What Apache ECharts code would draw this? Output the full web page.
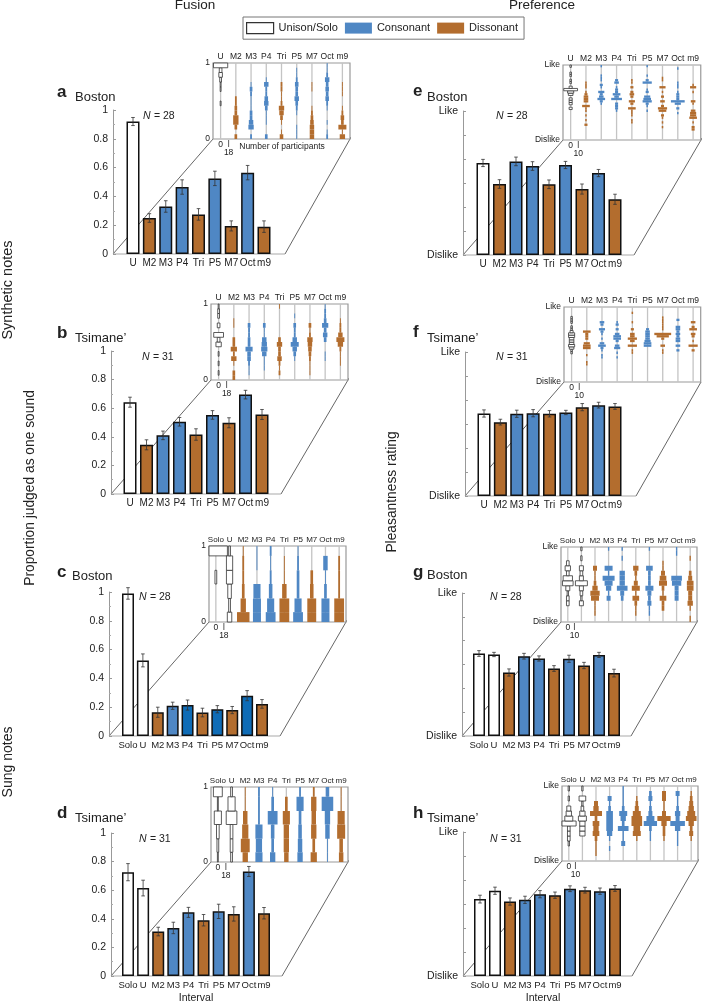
<!DOCTYPE html>
<html>
<head>
<meta charset="utf-8">
<style>
  html, body { margin: 0; padding: 0; background: #fff; }
  #chart { width: 702px; height: 1003px; }
</style>
<script src="https://cdn.jsdelivr.net/npm/echarts@6/dist/echarts.min.js"></script>
</head>
<body>
<div id="chart"></div>
<script>
const synthCats = ['U', 'M2', 'M3', 'P4', 'Tri', 'P5', 'M7', 'Oct', 'm9'];
const sungCats = ['Solo', 'U', 'M2', 'M3', 'P4', 'Tri', 'P5', 'M7', 'Oct', 'm9'];
const synthKinds = ['Unison/Solo', 'Dissonant', 'Consonant', 'Consonant', 'Dissonant', 'Consonant', 'Dissonant', 'Consonant', 'Dissonant'];
const sungKinds = ['Unison/Solo'].concat(synthKinds);

// mean and error of each bar
const aMeans = [0.92, 0.25, 0.33, 0.465, 0.275, 0.525, 0.195, 0.565, 0.19];
const aErrs = [0.028, 0.03, 0.04, 0.05, 0.04, 0.05, 0.035, 0.05, 0.04];
const bMeans = [0.642, 0.344, 0.41, 0.505, 0.416, 0.553, 0.498, 0.695, 0.556];
const bErrs = [0.035, 0.035, 0.03, 0.03, 0.04, 0.03, 0.035, 0.03, 0.035];
const cMeans = [0.99, 0.525, 0.165, 0.21, 0.215, 0.163, 0.186, 0.18, 0.28, 0.223];
const cErrs = [0.04, 0.045, 0.035, 0.025, 0.035, 0.03, 0.025, 0.025, 0.035, 0.03];
const dMeans = [0.726, 0.615, 0.311, 0.336, 0.445, 0.39, 0.452, 0.434, 0.731, 0.439];
const dErrs = [0.06, 0.055, 0.03, 0.04, 0.035, 0.04, 0.05, 0.05, 0.035, 0.04];
const eMeans = [0.639, 0.493, 0.65, 0.618, 0.491, 0.625, 0.458, 0.569, 0.387];
const eErrs = [0.025, 0.03, 0.03, 0.03, 0.03, 0.025, 0.035, 0.025, 0.035];
const fMeans = [0.573, 0.513, 0.571, 0.575, 0.571, 0.58, 0.617, 0.631, 0.622];
const fErrs = [0.025, 0.02, 0.025, 0.025, 0.022, 0.015, 0.025, 0.02, 0.02];
const gMeans = [0.577, 0.57, 0.444, 0.558, 0.542, 0.472, 0.54, 0.493, 0.567, 0.44];
const gErrs = [0.02, 0.015, 0.025, 0.02, 0.018, 0.02, 0.025, 0.022, 0.018, 0.027];
const hMeans = [0.534, 0.592, 0.517, 0.529, 0.568, 0.561, 0.606, 0.596, 0.589, 0.608];
const hErrs = [0.027, 0.025, 0.025, 0.025, 0.025, 0.022, 0.02, 0.02, 0.022, 0.02];

// participant counts of the insets, one entry per interval, bin -> count
const aHist = [
  { 15: 16, 14: 3, 13: 4, 12: 2, 11: 1, 10: 1, 7: 1 },
  { 0: 3, 2: 3, 3: 6, 4: 6, 5: 3, 6: 3, 7: 2, 8: 2 },
  { 0: 2, 2: 6, 3: 5, 4: 3, 5: 3, 6: 1, 7: 1, 8: 1, 9: 2, 10: 3, 11: 1 },
  { 0: 3, 3: 1, 4: 1, 5: 1, 6: 3, 7: 5, 8: 4, 9: 2, 10: 2, 11: 5, 12: 1 },
  { 0: 4, 1: 1, 3: 1, 4: 3, 5: 5, 6: 6, 7: 2, 8: 1, 9: 1, 10: 2, 11: 2 },
  { 0: 1, 1: 1, 2: 1, 5: 1, 6: 2, 7: 3, 8: 5, 9: 3, 10: 3, 11: 4, 12: 2, 13: 1, 14: 1 },
  { 0: 5, 1: 5, 2: 5, 3: 4, 4: 3, 5: 2, 6: 1, 10: 1, 11: 1 },
  { 0: 2, 1: 1, 3: 1, 6: 1, 7: 2, 8: 4, 9: 3, 10: 4, 11: 3, 12: 5, 13: 2, 14: 1, 15: 1 },
  { 0: 6, 1: 1, 2: 9, 3: 3, 4: 4, 5: 2, 6: 1, 9: 1, 10: 1, 11: 1 },
];
const bHist = [
  { 15: 1, 14: 2, 13: 2, 11: 3, 9: 11, 8: 3, 7: 6, 5: 1, 3: 1, 1: 1 },
  { 0: 3, 1: 3, 3: 1, 4: 6, 5: 2, 6: 7, 7: 3, 8: 3, 11: 1, 12: 1 },
  { 1: 1, 2: 1, 3: 2, 4: 4, 5: 4, 6: 8, 7: 3, 8: 3, 9: 2, 10: 2, 11: 3 },
  { 2: 1, 3: 1, 4: 1, 5: 5, 6: 7, 7: 6, 8: 5, 9: 1, 10: 1, 11: 3 },
  { 1: 2, 2: 1, 3: 2, 4: 5, 5: 3, 6: 3, 7: 6, 8: 3, 15: 1 },
  { 4: 1, 5: 3, 6: 5, 7: 9, 8: 5, 9: 2, 10: 2, 11: 3, 13: 1 },
  { 1: 1, 2: 1, 3: 1, 4: 2, 5: 3, 6: 4, 7: 5, 8: 6, 9: 2, 10: 1, 11: 3 },
  { 4: 1, 5: 1, 8: 3, 9: 5, 10: 3, 11: 7, 12: 3, 13: 2, 14: 2, 15: 1 },
  { 3: 1, 4: 1, 5: 1, 6: 2, 7: 6, 8: 9, 9: 5, 10: 2, 11: 2, 12: 1 },
];
const cHist = [
  [0, 0, 0, 2, 0, 26],
  [5, 2, 4, 7, 7, 2],
  [14, 6, 3, 2, 2, 1],
  [9, 9, 8, 0, 1, 1],
  [11, 8, 4, 2, 1, 2],
  [11, 11, 5, 1, 1, 0],
  [11, 8, 3, 3, 2, 1],
  [10, 10, 4, 3, 0, 0],
  [9, 9, 3, 1, 5, 0],
  [11, 11, 2, 2, 2, 0],
];
const dHist = [
  [1, 2, 3, 8, 1, 10],
  [2, 3, 3, 12, 8, 2],
  [6, 10, 7, 5, 1, 1],
  [8, 7, 8, 2, 2, 2],
  [6, 3, 4, 11, 3, 1],
  [5, 6, 6, 8, 3, 0],
  [6, 5, 4, 3, 8, 2],
  [7, 3, 6, 5, 6, 2],
  [1, 1, 5, 6, 13, 4],
  [5, 4, 9, 8, 1, 1],
];
const eHist = [
  { 31: 1, 28: 1, 27: 1, 25: 1, 24: 1, 22: 2, 21: 9, 20: 4, 19: 3, 17: 2, 16: 2, 15: 2, 13: 2 },
  { 24: 1, 23: 1, 22: 1, 20: 1, 19: 2, 18: 3, 17: 3, 16: 3, 14: 5, 13: 1, 12: 1, 10: 1, 8: 1, 6: 2 },
  { 31: 1, 27: 1, 26: 1, 25: 1, 23: 2, 22: 1, 20: 4, 19: 2, 18: 3, 17: 5, 16: 2, 15: 1 },
  { 25: 2, 24: 3, 22: 1, 21: 2, 20: 2, 19: 5, 18: 3, 17: 7, 15: 2, 14: 2, 13: 2, 12: 1 },
  { 25: 1, 24: 1, 22: 2, 20: 2, 19: 3, 18: 2, 16: 4, 15: 2, 13: 5, 12: 1, 11: 1, 10: 1, 8: 1, 7: 1 },
  { 31: 1, 27: 1, 25: 2, 24: 6, 21: 1, 20: 2, 18: 4, 17: 5, 16: 6, 15: 2, 14: 1, 12: 1 },
  { 26: 1, 25: 1, 22: 4, 20: 1, 18: 2, 16: 3, 14: 2, 13: 6, 12: 5, 10: 2, 9: 1, 7: 1, 5: 1 },
  { 30: 1, 24: 1, 23: 1, 22: 1, 20: 1, 19: 2, 18: 2, 17: 2, 16: 9, 15: 4, 13: 2, 11: 1 },
  { 23: 1, 22: 4, 20: 1, 16: 3, 15: 1, 12: 3, 11: 4, 10: 4, 9: 5, 7: 1, 5: 2, 4: 2 },
];
const fHist = [
  { 27: 1, 26: 1, 25: 1, 23: 1, 22: 1, 21: 2, 20: 4, 19: 4, 18: 3, 17: 3, 16: 3, 15: 4, 14: 3, 13: 1, 12: 1 },
  { 21: 5, 20: 2, 19: 2, 18: 2, 16: 4, 15: 5, 14: 5, 11: 1, 8: 1, 7: 1 },
  { 25: 3, 24: 2, 22: 4, 21: 2, 20: 1, 18: 1, 16: 3, 15: 5, 14: 2, 13: 1, 11: 1, 10: 1 },
  { 25: 1, 24: 2, 22: 2, 20: 3, 19: 5, 18: 5, 17: 2, 15: 3, 14: 4, 12: 1, 10: 1 },
  { 29: 1, 25: 1, 22: 2, 20: 3, 19: 3, 18: 6, 17: 3, 15: 6, 13: 1, 12: 1 },
  { 22: 2, 21: 3, 20: 3, 19: 3, 18: 3, 17: 4, 16: 5, 15: 5 },
  { 27: 1, 26: 1, 25: 1, 24: 1, 23: 1, 22: 1, 20: 11, 19: 8, 18: 2, 15: 3, 13: 1, 12: 1 },
  { 26: 2, 23: 3, 22: 3, 21: 2, 20: 3, 19: 2, 18: 3, 17: 3, 15: 3, 13: 2 },
  { 25: 3, 23: 2, 22: 5, 20: 3, 19: 2, 17: 1, 15: 6, 13: 2 },
];
const gHist = [
  { 11: 2, 10: 4, 9: 2, 8: 7, 7: 8, 6: 3, 5: 1, 4: 2, 3: 2 },
  { 14: 1, 12: 1, 10: 3, 9: 2, 8: 3, 7: 9, 6: 3, 5: 2, 4: 1, 3: 3 },
  { 10: 3, 9: 1, 8: 1, 7: 2, 6: 4, 5: 7, 4: 6, 3: 1, 2: 1, 1: 1 },
  { 14: 1, 10: 6, 9: 1, 8: 9, 7: 6, 6: 4, 5: 1, 4: 3 },
  { 14: 1, 12: 1, 9: 4, 8: 4, 7: 4, 6: 8, 5: 3, 4: 2 },
  { 10: 4, 9: 2, 8: 1, 7: 3, 6: 6, 5: 1, 4: 5, 3: 2, 2: 1, 1: 1 },
  { 14: 1, 10: 5, 9: 2, 8: 2, 7: 2, 6: 6, 5: 3, 4: 2, 3: 3, 2: 1, 1: 1 },
  { 11: 1, 10: 1, 9: 3, 8: 5, 7: 6, 6: 2, 5: 1, 4: 5, 3: 2, 2: 2 },
  { 14: 1, 13: 1, 8: 8, 7: 7, 6: 3, 5: 3, 4: 3 },
  { 12: 1, 9: 2, 8: 3, 7: 5, 6: 5, 5: 3, 4: 3, 3: 4, 2: 1, 0: 1 },
];
const hHist = [
  { 14: 1, 12: 1, 10: 3, 9: 4, 8: 6, 7: 11, 6: 2, 5: 2, 4: 2, 3: 1 },
  { 14: 1, 12: 5, 11: 1, 10: 2, 9: 4, 8: 6, 7: 4, 6: 4, 5: 4 },
  { 11: 3, 10: 4, 9: 9, 8: 2, 7: 5, 6: 4, 5: 5, 4: 2, 3: 1, 2: 1, 1: 1 },
  { 12: 3, 11: 1, 10: 2, 9: 5, 8: 5, 7: 5, 6: 5, 5: 4, 4: 1, 2: 1 },
  { 14: 1, 13: 1, 12: 1, 11: 1, 10: 2, 9: 6, 8: 4, 7: 2, 6: 8, 5: 1, 4: 1, 3: 3 },
  { 12: 1, 11: 2, 10: 3, 9: 6, 8: 8, 7: 8, 6: 5, 5: 6, 4: 1 },
  { 13: 2, 12: 3, 11: 1, 10: 2, 9: 3, 8: 6, 7: 10, 6: 2, 5: 1, 4: 1 },
  { 13: 3, 12: 3, 11: 1, 10: 1, 9: 3, 8: 10, 7: 4, 6: 2, 5: 2, 4: 1 },
  { 13: 3, 12: 1, 11: 1, 10: 2, 9: 4, 8: 3, 7: 11, 6: 4, 5: 1, 4: 1, 3: 1 },
  { 13: 1, 12: 2, 11: 3, 10: 4, 9: 6, 8: 8, 7: 4, 6: 2, 5: 3, 4: 1 },
];

const sungFusionEdges = [0, 0.13, 0.31, 0.5, 0.68, 0.87, 1];

const colors = {
  'Unison/Solo': '#fff',
  Consonant: '#4f87c4',
  Dissonant: '#b36d2e',
};
const strongBlue = '#0f6cb6';
const fontFamily = '"Liberation Sans", Arial, sans-serif';

function evenEdges(n, shift) {
  const edges = [];
  for (let i = 0; i <= n; i++) edges.push(Math.min(1, (i + (shift || 0)) / n));
  edges[0] = 0;
  return edges;
}

const panels = [
  { letter: 'a', site: 'Boston', n: 28, cats: synthCats, kinds: synthKinds, means: aMeans, errs: aErrs, hist: aHist, edges: evenEdges(16), countPx: 0.89, countTick: 18, pref: false,
    axisX: 113, first: 133, last: 264, right: 285, y0: 254, y1: 110, box: [213, 63, 350, 139], barW: 13, letterPos: [57, 92], sitePos: [75, 97], nPos: [143, 116] },
  { letter: 'b', site: 'Tsimane\u2019', n: 31, cats: synthCats, kinds: synthKinds, means: bMeans, errs: bErrs, hist: bHist, edges: evenEdges(16), countPx: 0.89, countTick: 18, pref: false,
    axisX: 111, first: 130, last: 262, right: 281, y0: 494, y1: 351, box: [211, 304, 348, 380], barW: 13, letterPos: [57, 333], sitePos: [75, 338], nPos: [142, 357] },
  { letter: 'c', site: 'Boston', n: 28, cats: sungCats, kinds: sungKinds, means: cMeans, errs: cErrs, hist: cHist, edges: sungFusionEdges, countPx: 0.89, countTick: 18, pref: false, strong: ['P4', 'P5', 'Oct'],
    axisX: 109, first: 128, last: 262, right: 280, y0: 736, y1: 592, box: [209, 546, 346, 622], barW: 12, letterPos: [57, 572], sitePos: [72, 576], nPos: [139, 597] },
  { letter: 'd', site: 'Tsimane\u2019', n: 31, cats: sungCats, kinds: sungKinds, means: dMeans, errs: dErrs, hist: dHist, edges: sungFusionEdges, countPx: 0.89, countTick: 18, pref: false,
    axisX: 111, first: 128, last: 264, right: 282, y0: 976, y1: 833, box: [211, 787, 348, 862], barW: 12, letterPos: [57, 813], sitePos: [75, 818], nPos: [139, 839] },
  { letter: 'e', site: 'Boston', n: 28, cats: synthCats, kinds: synthKinds, means: eMeans, errs: eErrs, hist: eHist, edges: evenEdges(32), countPx: 1.53, countTick: 10, pref: true,
    axisX: 463, first: 483, last: 615, right: 634, y0: 255, y1: 111, box: [563, 65, 701, 140], barW: 13, letterPos: [413, 91], sitePos: [427, 97], nPos: [496, 116] },
  { letter: 'f', site: 'Tsimane\u2019', n: 31, cats: synthCats, kinds: synthKinds, means: fMeans, errs: fErrs, hist: fHist, edges: evenEdges(32), countPx: 1.53, countTick: 10, pref: true,
    axisX: 465, first: 484, last: 615, right: 636, y0: 496, y1: 352, box: [564, 307, 701, 382], barW: 13, letterPos: [413, 332], sitePos: [427, 338], nPos: [496, 357] },
  { letter: 'g', site: 'Boston', n: 28, cats: sungCats, kinds: sungKinds, means: gMeans, errs: gErrs, hist: gHist, edges: evenEdges(15, 0.25), countPx: 1.33, countTick: 10, pref: true,
    axisX: 462, first: 479, last: 614, right: 631, y0: 736, y1: 593, box: [561, 547, 697, 622], barW: 12, letterPos: [413, 572], sitePos: [427, 575], nPos: [490, 597] },
  { letter: 'h', site: 'Tsimane\u2019', n: 31, cats: sungCats, kinds: sungKinds, means: hMeans, errs: hErrs, hist: hHist, edges: evenEdges(15), countPx: 1.33, countTick: 10, pref: true,
    axisX: 463, first: 480, last: 615, right: 632, y0: 976, y1: 832, box: [562, 786, 698, 861], barW: 12, letterPos: [413, 813], sitePos: [427, 818], nPos: [490, 839] },
];

function text(str, x, y, size, extra) {
  return Object.assign({
    type: 'text',
    z: 5,
    silent: true,
    x: x,
    y: y,
    style: {
      text: str,
      font: (extra && extra.weight ? extra.weight + ' ' : '') + size + 'px ' + fontFamily,
      fill: '#222',
      textAlign: (extra && extra.align) || 'left',
      textVerticalAlign: 'middle',
    },
  }, extra && extra.rotation ? { rotation: extra.rotation } : {});
}

function line(x1, y1, x2, y2, color, width) {
  return {
    type: 'line',
    z: 0,
    silent: true,
    shape: { x1: x1, y1: y1, x2: x2, y2: y2 },
    style: { stroke: color, lineWidth: width },
  };
}

function errorRender(params, api) {
  const x = api.coord([api.value(0), 0])[0];
  const lo = api.coord([api.value(0), api.value(1)])[1];
  const hi = api.coord([api.value(0), api.value(2)])[1];
  const st = { stroke: '#333', lineWidth: 0.8 };
  return {
    type: 'group',
    children: [
      { type: 'line', shape: { x1: x, y1: lo, x2: x, y2: hi }, style: st },
      { type: 'line', shape: { x1: x - 1.8, y1: lo, x2: x + 1.8, y2: lo }, style: st },
      { type: 'line', shape: { x1: x - 1.8, y1: hi, x2: x + 1.8, y2: hi }, style: st },
    ],
  };
}

function stemRender(params, api) {
  const x = api.coord([api.value(0), 0])[0];
  const cs = params.coordSys;
  return {
    type: 'line',
    shape: { x1: x, y1: cs.y, x2: x, y2: cs.y + cs.height },
    style: { stroke: '#c4c4c4', lineWidth: 1.3 },
  };
}

function histRender(panel) {
  return function (params, api) {
    const at = api.coord([api.value(0), api.value(2)]);
    const bottom = api.coord([api.value(0), api.value(1)])[1];
    const w = api.value(3) * panel.countPx;
    const rect = echarts.graphic.clipRectByRect(
      { x: at[0] - w / 2, y: at[1], width: w, height: bottom - at[1] },
      params.coordSys
    );
    if (!rect) return null;
    const kind = panel.kinds[api.value(0)];
    const open = kind === 'Unison/Solo';
    return {
      type: 'rect',
      shape: rect,
      style: {
        fill: colors[kind],
        stroke: open ? '#333' : null,
        lineWidth: open ? 0.8 : 0,
      },
    };
  };
}

const grids = [];
const xAxes = [];
const yAxes = [];
const series = [];
const elements = [];

panels.forEach(panel => {
  const count = panel.cats.length;
  const spacing = (panel.last - panel.first) / (count - 1);
  const gridLeft = panel.first - spacing / 2;
  const gridRight = panel.last + spacing / 2;
  const [boxL, boxT, boxR, boxB] = panel.box;

  // main bar chart
  const mainGrid = grids.length;
  const mainX = xAxes.length;
  const mainY = yAxes.length;
  grids.push({ left: gridLeft, top: panel.y1, width: gridRight - gridLeft, height: panel.y0 - panel.y1 });
  xAxes.push({
    gridIndex: mainGrid,
    type: 'category',
    data: panel.cats,
    axisLine: { show: false },
    axisTick: { show: false },
    axisLabel: { interval: 0, margin: 4, fontSize: count > 9 ? 9.5 : 10, color: '#222', fontFamily: fontFamily },
  });
  yAxes.push({
    gridIndex: mainGrid,
    type: 'value',
    min: 0,
    max: 1,
    interval: panel.pref ? 1 / 6 : 0.2,
    offset: gridLeft - panel.axisX,
    axisLine: { show: true, lineStyle: { color: '#999' } },
    axisTick: { show: true, inside: true, length: 3, lineStyle: { color: '#999' } },
    minorTick: { show: !panel.pref, splitNumber: 2, length: 2, lineStyle: { color: '#aaa' } },
    splitLine: { show: false },
    axisLabel: {
      margin: 5,
      fontSize: 10.5,
      color: '#222',
      fontFamily: fontFamily,
      formatter: panel.pref ? v => (v === 0 ? 'Dislike' : v > 0.999 ? 'Like' : '') : undefined,
    },
  });

  Object.keys(colors).forEach(kind => {
    series.push({
      name: kind,
      type: 'bar',
      xAxisIndex: mainX,
      yAxisIndex: mainY,
      barWidth: panel.barW,
      barGap: '-100%',
      itemStyle: { color: colors[kind], borderColor: '#111', borderWidth: 1.5 },
      data: panel.means.map((m, i) => {
        if (panel.kinds[i] !== kind) return '-';
        if (panel.strong && panel.strong.includes(panel.cats[i])) {
          return { value: m, itemStyle: { color: strongBlue } };
        }
        return m;
      }),
    });
  });
  series.push({
    type: 'custom',
    xAxisIndex: mainX,
    yAxisIndex: mainY,
    z: 4,
    renderItem: errorRender,
    data: panel.means.map((m, i) => [i, m - panel.errs[i], m + panel.errs[i]]),
  });

  // inset histogram
  const insetGrid = grids.length;
  const insetX = xAxes.length;
  const insetY = yAxes.length;
  grids.push({
    left: boxL, top: boxT, width: boxR - boxL, height: boxB - boxT,
    show: true, borderColor: '#999', borderWidth: 1.2, backgroundColor: '#fff', z: 1,
  });
  xAxes.push({
    gridIndex: insetGrid,
    type: 'category',
    position: 'top',
    data: panel.cats,
    axisLine: { show: false },
    axisTick: { show: false },
    axisLabel: { interval: 0, margin: 2, fontSize: count > 9 ? 8 : 8.5, color: '#222', fontFamily: fontFamily },
  });
  xAxes.push({
    gridIndex: insetGrid,
    type: 'category',
    position: 'bottom',
    data: panel.cats,
    axisLine: { show: false },
    axisTick: { show: true, inside: true, length: 2, lineStyle: { color: '#888' } },
    axisLabel: { show: false },
  });
  yAxes.push({
    gridIndex: insetGrid,
    type: 'value',
    min: 0,
    max: 1,
    interval: 1,
    axisLine: { show: false },
    axisTick: { show: false },
    splitLine: { show: false },
    axisLabel: {
      margin: 3,
      fontSize: 8.5,
      color: '#222',
      fontFamily: fontFamily,
      formatter: panel.pref ? v => (v === 0 ? 'Dislike' : 'Like') : undefined,
    },
  });
  series.push({
    type: 'custom',
    xAxisIndex: insetX,
    yAxisIndex: insetY,
    z: 3,
    renderItem: stemRender,
    data: panel.cats.map((c, i) => [i]),
  });
  const histItems = [];
  panel.hist.forEach((bins, i) => {
    Object.entries(bins).forEach(([bin, n]) => {
      if (n > 0) histItems.push([i, panel.edges[+bin], panel.edges[+bin + 1], n]);
    });
  });
  series.push({
    type: 'custom',
    xAxisIndex: insetX,
    yAxisIndex: insetY,
    z: 4,
    encode: { x: 0, y: [1, 2] },
    renderItem: histRender(panel),
    data: histItems,
  });

  // perspective connectors and baseline
  elements.push(line(panel.axisX, panel.y0, boxL, boxB, '#555', 0.9));
  elements.push(line(panel.right, panel.y0, boxR, boxB, '#555', 0.9));
  elements.push(line(panel.axisX, panel.y0, panel.right, panel.y0, '#aaa', 1.2));

  // labels of the panel
  elements.push(text(panel.letter, panel.letterPos[0], panel.letterPos[1], 17, { weight: 'bold' }));
  elements.push(text(panel.site, panel.sitePos[0], panel.sitePos[1], 13));
  const italicN = text('N', panel.nPos[0], panel.nPos[1], 10.5);
  italicN.style.font = 'italic ' + italicN.style.font;
  elements.push(italicN);
  elements.push(text(' = ' + panel.n, panel.nPos[0] + 8, panel.nPos[1], 10.5));

  // count scale under the inset
  const band = (boxR - boxL) / count;
  const cat0 = boxL + band / 2;
  const tickX = cat0 + panel.countTick * panel.countPx / 2;
  const tickLine = line(tickX, boxB + 1, tickX, boxB + 8, '#333', 0.8);
  tickLine.z = 5;
  elements.push(tickLine);
  elements.push(text('0', cat0, boxB + 6, 8.5, { align: 'center' }));
  elements.push(text(String(panel.countTick), tickX, boxB + 14, 8.5, { align: 'center' }));
  if (panel.letter === 'a') {
    elements.push(text('Number of participants', 282, boxB + 8, 8.5, { align: 'center' }));
  }
});

elements.push(text('Fusion', 195, 5, 13.5, { align: 'center' }));
elements.push(text('Preference', 542, 5, 13.5, { align: 'center' }));
elements.push(text('Interval', 196, 998, 10.5, { align: 'center' }));
elements.push(text('Interval', 543, 998, 10.5, { align: 'center' }));
elements.push(text('Synthetic notes', 8, 290, 14.5, { align: 'center', rotation: Math.PI / 2 }));
elements.push(text('Sung notes', 8, 762, 14, { align: 'center', rotation: Math.PI / 2 }));
elements.push(text('Proportion judged as one sound', 30, 488, 13.8, { align: 'center', rotation: Math.PI / 2 }));
elements.push(text('Pleasantness rating', 392, 492, 13.8, { align: 'center', rotation: Math.PI / 2 }));

const chart = echarts.init(document.getElementById('chart'));
chart.setOption({
  animation: false,
  grid: grids,
  xAxis: xAxes,
  yAxis: yAxes,
  series: series,
  graphic: { elements: elements },
  legend: {
    left: 243,
    top: 17,
    padding: [5, 6, 5, 3],
    itemWidth: 27,
    itemHeight: 11,
    itemGap: 7,
    icon: 'rect',
    selectedMode: false,
    borderColor: '#777',
    borderWidth: 1,
    textStyle: { fontSize: 11, color: '#222', fontFamily: fontFamily },
    data: [
      { name: 'Unison/Solo', itemStyle: { borderColor: '#333', borderWidth: 1.2 } },
      { name: 'Consonant', itemStyle: { borderWidth: 0 } },
      { name: 'Dissonant', itemStyle: { borderWidth: 0 } },
    ],
  },
});
</script>
</body>
</html>
